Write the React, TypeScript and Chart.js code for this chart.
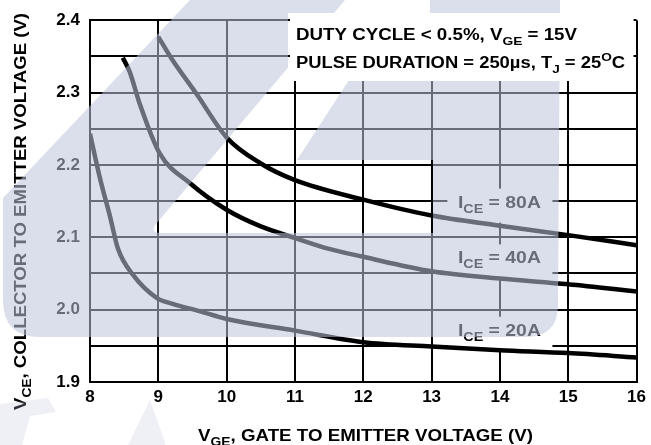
import React, { useEffect, useRef } from "react";
import { Chart, registerables } from "chart.js";
Chart.register(...registerables);

// ---- data ----
const xTickValues = [8, 9, 10, 11, 12, 13, 14, 15, 16];
const yTickLabels = ["1.9", "2.0", "2.1", "2.2", "2.3", "2.4"];

const x80 = [9, 9.2, 9.56, 10, 10.5, 11, 12, 13, 14, 15, 16];
const y80 = [2.377, 2.346, 2.298, 2.238, 2.202, 2.179, 2.152, 2.13, 2.116, 2.103, 2.089];

const x40 = [8.48, 8.58, 8.73, 9.02, 9.46, 10, 10.5, 11, 11.5, 12, 13, 14, 15, 16];
const y40 = [2.348, 2.329, 2.284, 2.216, 2.175, 2.138, 2.115, 2.099, 2.084, 2.073, 2.053, 2.043, 2.035, 2.025];

const x20 = [8, 8.15, 8.29, 8.41, 8.63, 8.98, 9.21, 9.6, 10, 11, 12, 13, 14, 15, 16];
const y20 = [2.243, 2.18, 2.13, 2.084, 2.048, 2.016, 2.008, 1.998, 1.987, 1.971, 1.955, 1.949, 1.944, 1.94, 1.934];

const seriesNames = ["80A", "40A", "20A"];
const labelX = 14;
const labelBaseY = [2.141, 2.064, 1.964];

const FONT = '"Liberation Sans", Arial, Helvetica, sans-serif';

type Seg = { t: string; s?: "sub" | "sup" };

function segFont(size: number, s?: string) {
  const sz = s ? size * 0.74 : size;
  return `bold ${sz}px ${FONT}`;
}

function drawRich(
  ctx: CanvasRenderingContext2D,
  segs: Seg[],
  x: number,
  y: number,
  size: number,
  targetW: number | null,
  color: string
) {
  ctx.save();
  let w = 0;
  const ws = segs.map((g) => {
    ctx.font = segFont(size, g.s);
    const m = ctx.measureText(g.t).width;
    w += m;
    return m;
  });
  const sx = targetW ? targetW / w : 1;
  ctx.translate(x, y);
  ctx.scale(sx, 1);
  ctx.fillStyle = color;
  ctx.textBaseline = "alphabetic";
  ctx.textAlign = "left";
  let cx = 0;
  segs.forEach((g, i) => {
    ctx.font = segFont(size, g.s);
    const dy = g.s === "sub" ? size * 0.3 : g.s === "sup" ? -size * 0.45 : 0;
    ctx.fillText(g.t, cx, dy);
    cx += ws[i];
  });
  ctx.restore();
}

const decoPlugin = {
  id: "deco",
  beforeDatasetsDraw(chart: any) {
    const ctx: CanvasRenderingContext2D = chart.ctx;
    const xs = chart.scales.x;
    const ys = chart.scales.y;
    // series label boxes
    seriesNames.forEach((name, i) => {
      const cx = xs.getPixelForValue(labelX);
      const by = ys.getPixelForValue(labelBaseY[i]);
      ctx.fillStyle = "#fff";
      ctx.fillRect(cx - 52.5, by - 19, 105, 34);
      drawRich(ctx, [{ t: "I" }, { t: "CE", s: "sub" }, { t: " = " + name }], cx - 42, by, 17, 83, "#000");
    });
    // axis titles
    drawRich(
      ctx,
      [{ t: "V" }, { t: "GE", s: "sub" }, { t: ", GATE TO EMITTER VOLTAGE (V)" }],
      198,
      441,
      17,
      335,
      "#000"
    );
    ctx.save();
    ctx.translate(26, 410);
    ctx.rotate(-Math.PI / 2);
    drawRich(
      ctx,
      [{ t: "V" }, { t: "CE", s: "sub" }, { t: ", COLLECTOR TO EMITTER VOLTAGE (V)" }],
      0,
      0,
      17,
      397,
      "#000"
    );
    ctx.restore();
  },
  afterDatasetsDraw(chart: any) {
    const ctx: CanvasRenderingContext2D = chart.ctx;
    const area = chart.chartArea;
    // watermark overlay
    ctx.save();
    ctx.beginPath();
    ctx.rect(0, 0, 651, 445);
    ctx.rect(288, 13, area.right - 3 - 288, 68);
    ctx.clip("evenodd");
    ctx.fillStyle = "rgba(190,195,218,0.55)";
    ctx.beginPath();
    ctx.moveTo(297, 160);
    ctx.lineTo(390, 17);
    ctx.lineTo(430, 17);
    ctx.lineTo(430, 0);
    ctx.lineTo(560, 0);
    ctx.lineTo(558, 305);
    ctx.quadraticCurveTo(558, 337, 525, 337);
    ctx.lineTo(40, 337);
    ctx.quadraticCurveTo(3, 337, 3, 300);
    ctx.lineTo(3, 198);
    ctx.lineTo(20, 180);
    ctx.lineTo(190, 0);
    ctx.lineTo(345, 0);
    ctx.lineTo(156, 224);
    ctx.quadraticCurveTo(149, 233, 162, 233);
    ctx.lineTo(433, 233);
    ctx.lineTo(433, 160);
    ctx.closePath();
    ctx.fill();
    // faint fragments below the chart
    ctx.fillStyle = "rgba(190,195,218,0.25)";
    ctx.beginPath();
    ctx.moveTo(0, 404);
    ctx.lineTo(48, 398);
    ctx.lineTo(56, 412);
    ctx.lineTo(30, 416);
    ctx.lineTo(22, 445);
    ctx.lineTo(0, 445);
    ctx.closePath();
    ctx.moveTo(128, 445);
    ctx.lineTo(150, 400);
    ctx.lineTo(166, 445);
    ctx.closePath();
    ctx.fill();
    ctx.restore();

    // condition text box
    ctx.fillStyle = "#fff";
    ctx.fillRect(290, 17, area.right - 3 - 290, 64);
    drawRich(
      ctx,
      [{ t: "DUTY CYCLE < 0.5%, V" }, { t: "GE", s: "sub" }, { t: " = 15V" }],
      296,
      40,
      16,
      281,
      "#000"
    );
    drawRich(
      ctx,
      [
        { t: "PULSE DURATION = 250µs, T" },
        { t: "J", s: "sub" },
        { t: " = 25" },
        { t: "O", s: "sup" },
        { t: "C" },
      ],
      296,
      68,
      16,
      329,
      "#000"
    );
  },
};

export default function App() {
  const ref = useRef<HTMLCanvasElement | null>(null);
  useEffect(() => {
    if (!ref.current) return;
    const mk = (xs: number[], ys: number[]) => ({
      data: xs.map((x, i) => ({ x, y: ys[i] })),
      borderColor: "#000",
      borderWidth: 4.5,
      pointRadius: 0,
      fill: false,
      cubicInterpolationMode: "monotone" as const,
    });
    const tickFont = { family: FONT, size: 17, weight: "bold" as const };
    const chart = new Chart(ref.current, {
      type: "line",
      data: { datasets: [mk(x80, y80), mk(x40, y40), mk(x20, y20)] as any },
      options: {
        animation: false,
        responsive: false,
        devicePixelRatio: 1,
        layout: { padding: { top: 15, right: 12, left: 0, bottom: 0 } },
        plugins: { legend: { display: false }, tooltip: { enabled: false } },
        scales: {
          x: {
            type: "linear",
            min: 8,
            max: 16,
            afterFit: (s: any) => {
              s.height = 63;
            },
            afterBuildTicks: (s: any) => {
              s.ticks = xTickValues.map((v) => ({ value: v }));
            },
            ticks: { color: "#000", font: tickFont, padding: 5, maxRotation: 0, callback: (v: any) => String(v) },
            grid: { color: "#000", lineWidth: 2, drawTicks: false },
            border: { color: "#000", width: 2 },
          },
          y: {
            type: "linear",
            min: 1.9,
            max: 2.4,
            afterFit: (s: any) => {
              s.width = 90;
            },
            ticks: {
              stepSize: 0.05,
              color: "#000",
              font: tickFont,
              padding: 10,
              callback: (v: any) => {
                const lab = yTickLabels.find((l) => Math.abs(parseFloat(l) - Number(v)) < 1e-6);
                return lab ?? "";
              },
            },
            grid: { color: "#000", lineWidth: 2, drawTicks: false },
            border: { color: "#000", width: 2 },
          },
        },
      },
      plugins: [decoPlugin],
    });
    return () => chart.destroy();
  }, []);
  return (
    <canvas
      ref={ref}
      width={651}
      height={445}
      style={{ position: "fixed", left: 0, top: 0, width: 651, height: 445 }}
    />
  );
}
